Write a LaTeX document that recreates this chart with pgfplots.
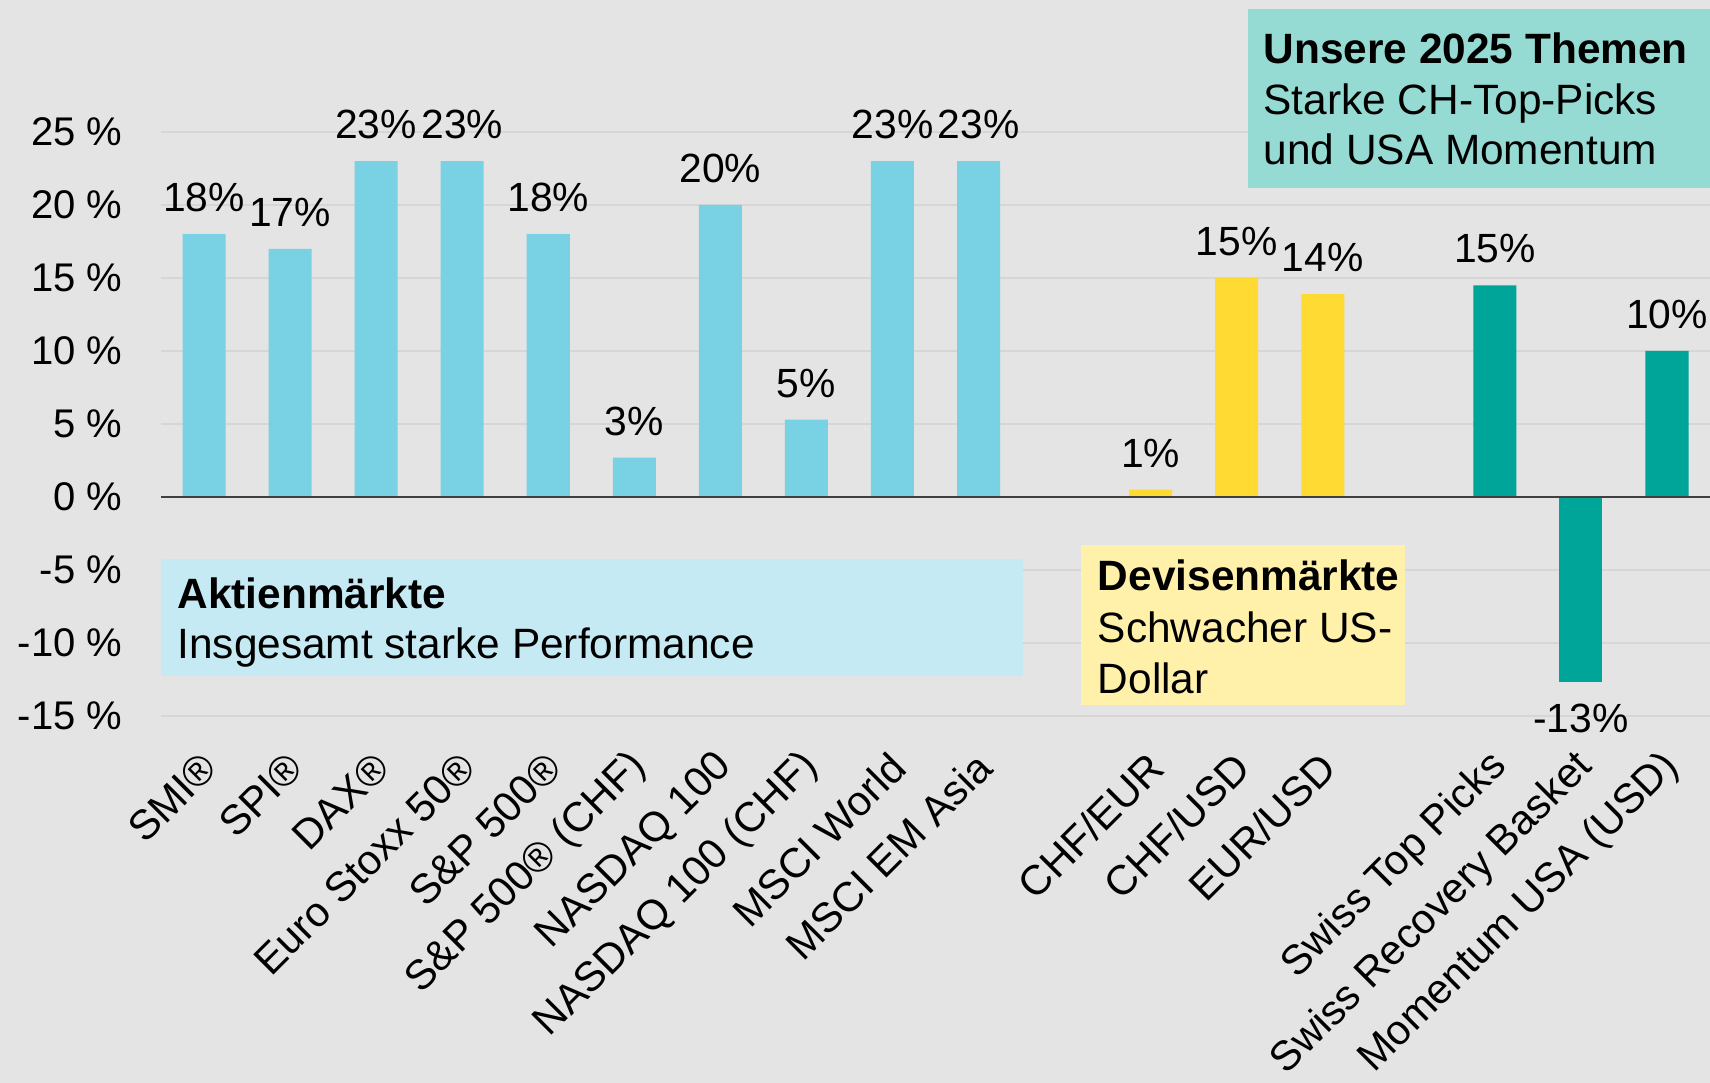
\documentclass[border=0pt]{standalone}
\usepackage{pgfplots}
\pgfplotsset{compat=1.18}
\usepackage{fontspec}
\setmainfont{Liberation Sans}
\usetikzlibrary{backgrounds}

\definecolor{bgc}{HTML}{E4E4E4}
\definecolor{gridc}{HTML}{D6D6D6}
\definecolor{zeroc}{HTML}{404040}
\definecolor{eqblue}{HTML}{78D2E4}
\definecolor{fxyellow}{HTML}{FFDA33}
\definecolor{thteal}{HTML}{00A599}
\definecolor{boxblue}{HTML}{C5EAF3}
\definecolor{boxyellow}{HTML}{FFF0AA}
\definecolor{boxteal}{HTML}{96DBD3}

\newcommand{\lblfont}{\fontsize{10.2}{12}\selectfont}
\newcommand{\boxfont}{\fontsize{10.6}{12.7}\selectfont}

\begin{document}
\begin{tikzpicture}
\begin{axis}[
  name=ax,
  scale only axis,
  width=387.25pt, height=146pt,
  xmin=-0.5, xmax=17.5,
  ymin=-15, ymax=25,
  enlargelimits=false,
  clip=false,
  axis line style={draw=none},
  major tick length=0pt,
  ytick={-15,-10,...,25},
  yticklabels={-15 \%,-10 \%,-5 \%,0 \%,5 \%,10 \%,15 \%,20 \%,25 \%},
  yticklabel style={font=\fontsize{10}{12}\selectfont, inner sep=0pt, xshift=-9.5pt},
  xtick={0,1,2,3,4,5,6,7,8,9,11,12,13,15,16,17},
  xticklabels={SMI®,SPI®,DAX®,Euro Stoxx 50®,S\&P 500®,S\&P 500® (CHF),NASDAQ 100,NASDAQ 100 (CHF),MSCI World,MSCI EM Asia,CHF/EUR,CHF/USD,EUR/USD,Swiss Top Picks,Swiss Recovery Basket,Momentum USA (USD)},
  xticklabel style={font=\fontsize{10.4}{12}\selectfont, xshift=1.5pt, yshift=-11pt, rotate=45, anchor=east, inner sep=0pt},
  ymajorgrids, grid style={gridc, line width=0.45pt},
  ybar, bar width=0.5,
  nodes near coords, point meta=explicit symbolic,
  every node near coord/.append style={font=\lblfont, inner sep=0pt},
]
% annotation boxes
\fill[boxblue] (axis cs:-0.5,-4.27) rectangle (axis cs:9.516,-12.26);
\fill[boxyellow] (axis cs:10.188,-3.30) rectangle (axis cs:13.952,-14.27);
\fill[boxteal] (axis cs:12.126,21.16) rectangle (axis cs:17.5,33.4);

\node[anchor=base west, inner sep=0pt, font=\boxfont\bfseries] at (axis cs:-0.318,-7.64) {Aktienmärkte};
\node[anchor=base west, inner sep=0pt, font=\boxfont] at (axis cs:-0.318,-11.08) {Insgesamt starke Performance};
\node[anchor=base west, inner sep=0pt, font=\boxfont\bfseries] at (axis cs:10.378,-6.44) {Devisenmärkte};
\node[anchor=base west, inner sep=0pt, font=\boxfont] at (axis cs:10.378,-9.96) {Schwacher US-};
\node[anchor=base west, inner sep=0pt, font=\boxfont] at (axis cs:10.378,-13.47) {Dollar};
\node[anchor=base west, inner sep=0pt, font=\boxfont\bfseries] at (axis cs:12.304,29.66) {Unsere 2025 Themen};
\node[anchor=base west, inner sep=0pt, font=\boxfont] at (axis cs:12.304,26.2) {Starke CH-Top-Picks};
\node[anchor=base west, inner sep=0pt, font=\boxfont] at (axis cs:12.304,22.76) {und USA Momentum};

% equity markets
\addplot[fill=eqblue, draw=none, bar shift=0pt,
  every node near coord/.append style={anchor=south, yshift=5.3pt}]
  coordinates {(0,18) [18\%] (1,17) [17\%] (2,23) [23\%] (3,23) [23\%] (4,18) [18\%]
               (5,2.7) [3\%] (6,20) [20\%] (7,5.3) [5\%] (8,23) [23\%] (9,23) [23\%]};
% currencies
\addplot[fill=fxyellow, draw=none, bar shift=0pt,
  every node near coord/.append style={anchor=south, yshift=5.3pt}]
  coordinates {(11,0.5) [1\%] (12,15) [15\%] (13,13.9) [14\%]};
% themes
\addplot[fill=thteal, draw=none, bar shift=0pt,
  every node near coord/.append style={anchor=south, yshift=5.3pt}]
  coordinates {(15,14.5) [15\%] (17,10) [10\%]};
\addplot[fill=thteal, draw=none, bar shift=0pt,
  every node near coord/.append style={anchor=north, yshift=-5.4pt}]
  coordinates {(16,-12.65) [-13\%]};

\draw[zeroc, line width=0.6pt] (axis cs:-0.5,0) -- (axis cs:17.5,0);
\end{axis}
\pgfresetboundingbox
\path[use as bounding box] ([xshift=-40.25pt,yshift=-91.75pt]ax.south west) rectangle ([yshift=33pt]ax.north east);
\begin{pgfonlayer}{background}
\fill[bgc] ([xshift=-40.25pt,yshift=-91.75pt]ax.south west) rectangle ([yshift=33pt]ax.north east);
\end{pgfonlayer}
\end{tikzpicture}
\end{document}
